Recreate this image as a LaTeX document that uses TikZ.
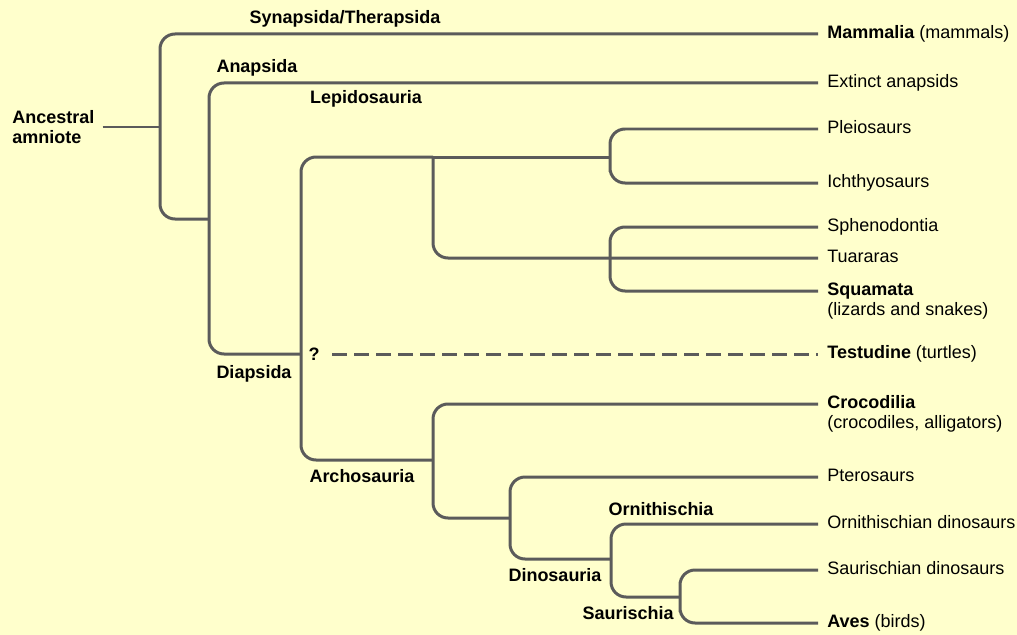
\documentclass[tikz,border=0pt]{standalone}
\usepackage{fontspec}
\setmainfont{Liberation Sans}
\usepackage{xcolor}
\definecolor{paper}{HTML}{FFFFCC}
\definecolor{twig}{HTML}{5B5B5B}
\newcommand{\twolines}[2]{\vtop{\hbox{#1}\hbox{#2}}}

\begin{document}
\begin{tikzpicture}[x=0.02cm,y=-0.02cm,
  font=\fontsize{10.24}{11.4}\selectfont,
  branch/.style={line width=0.06cm,color=twig,rounded corners=0.3cm},
  taxon/.style={anchor=mid west,inner xsep=0.18cm,inner ysep=0pt},
  clade/.style={font=\fontsize{10.24}{11.4}\selectfont\bfseries,inner sep=0pt}]
\useasboundingbox (0,0) rectangle (1017,635);
\fill[paper] (0,0) rectangle (1017,635);
\node[clade,align=left,anchor=west,inner xsep=0.16cm] (amn) at (4,127) {Ancestral\\amniote};
\coordinate (n1) at (160,127);
\coordinate (n2) at (209,219);
\coordinate (n3) at (301,354);
\coordinate (lep) at (433,157);
\coordinate (n5) at (610,157);
\coordinate (n6) at (610,258);
\coordinate (arc) at (433,460);
\coordinate (n8) at (510,518);
\coordinate (din) at (611,559);
\coordinate (sau) at (680,597);
\node[taxon] (mam) at (818,34) {\textbf{Mammalia} (mammals)};
\node[taxon] (ext) at (818,83) {Extinct anapsids};
\node[taxon] (ple) at (818,129) {Pleiosaurs};
\node[taxon] (ich) at (818,183) {Ichthyosaurs};
\node[taxon] (sph) at (818,227) {Sphenodontia};
\node[taxon] (tua) at (818,258) {Tuararas};
\node[taxon] (squ) at (818,291) {\twolines{\textbf{Squamata}}{(lizards and snakes)}};
\node[taxon] (tes) at (818,354) {\textbf{Testudine} (turtles)};
\node[taxon] (cro) at (818,404) {\twolines{\textbf{Crocodilia}}{(crocodiles, alligators)}};
\node[taxon] (pte) at (818,477) {Pterosaurs};
\node[taxon] (orn) at (818,524) {Ornithischian dinosaurs};
\node[taxon] (sdi) at (818,570) {Saurischian dinosaurs};
\node[taxon] (ave) at (818,623) {\textbf{Aves} (birds)};
\node[clade] (syn) at (345,19) {Synapsida/Therapsida};
\node[clade] (ana) at (257,68) {Anapsida};
\node[clade] (lepl) at (366,99) {Lepidosauria};
\node[clade] (dia) at (254,374) {Diapsida};
\node[clade] (arcl) at (362,476) {Archosauria};
\node[clade] (ornl) at (661,509) {Ornithischia};
\node[clade] (dinl) at (555,575) {Dinosauria};
\node[clade] (saul) at (628,613) {Saurischia};
\node[clade,inner xsep=0.25cm] (q) at (314,354) {?};
\draw[branch] (amn.east) -- (n1);
\draw[branch] (mam.mid west) -| (n1) |- (n2);
\draw[branch] (ext.mid west) -| (n2) |- (n3);
\draw[branch] (lep) -| (n3) |- (arc);
\draw[branch] (lep) -- (n5);
\draw[branch] (lep) |- (tua.mid west);
\draw[branch] (ple.mid west) -| (n5) |- (ich.mid west);
\draw[branch] (sph.mid west) -| (n6) |- (squ.mid west);
\draw[branch,dash pattern=on 0.3cm off 0.14cm] (q.east) -- (tes.mid west);
\draw[branch] (cro.mid west) -| (arc) |- (n8);
\draw[branch] (pte.mid west) -| (n8) |- (din);
\draw[branch] (orn.mid west) -| (din) |- (sau);
\draw[branch] (sdi.mid west) -| (sau) |- (ave.mid west);
\end{tikzpicture}
\end{document}
